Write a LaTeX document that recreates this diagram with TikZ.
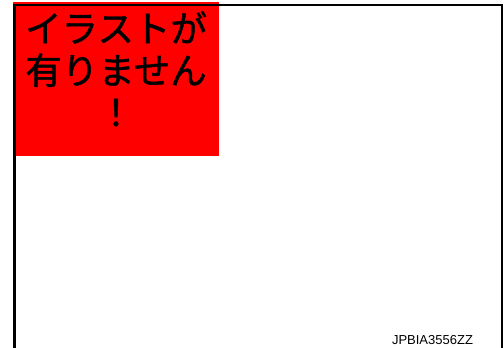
\documentclass[tikz,border=0pt]{standalone}
\usepackage{fontspec}
\setmainfont{Liberation Sans}
\newfontfamily\jpfont[FakeBold=1.2]{Noto Sans CJK JP}
\begin{document}
\begin{tikzpicture}[x=1pt,y=-1pt]
\tikzset{
  frameline/.style={line width=2.4pt},
  nopict/.style={fill=red, anchor=north west, minimum width=206pt, minimum height=154pt, inner sep=0pt},
  nopicttext/.style={align=center, anchor=north, inner sep=0pt, font=\jpfont\fontsize{36.5}{42}\selectfont},
  figcode/.style={anchor=base, inner sep=0pt, font=\fontsize{13}{15}\selectfont}
}
\useasboundingbox (0,0) rectangle (504,348);

\coordinate (o) at (13,2);
\node[nopict] (box) at (o) {};
\node[nopicttext] (msg) at (116,11) {イラストが\\有りません\\！};

\coordinate (bl) at (14.5,352);
\coordinate (br) at (502,352);
\draw[frameline] (bl) |- (br |- 0,5) coordinate (tr) -- (br);

\node[figcode] (code) at (432.5,344) {JPBIA3556ZZ};

\end{tikzpicture}
\end{document}
